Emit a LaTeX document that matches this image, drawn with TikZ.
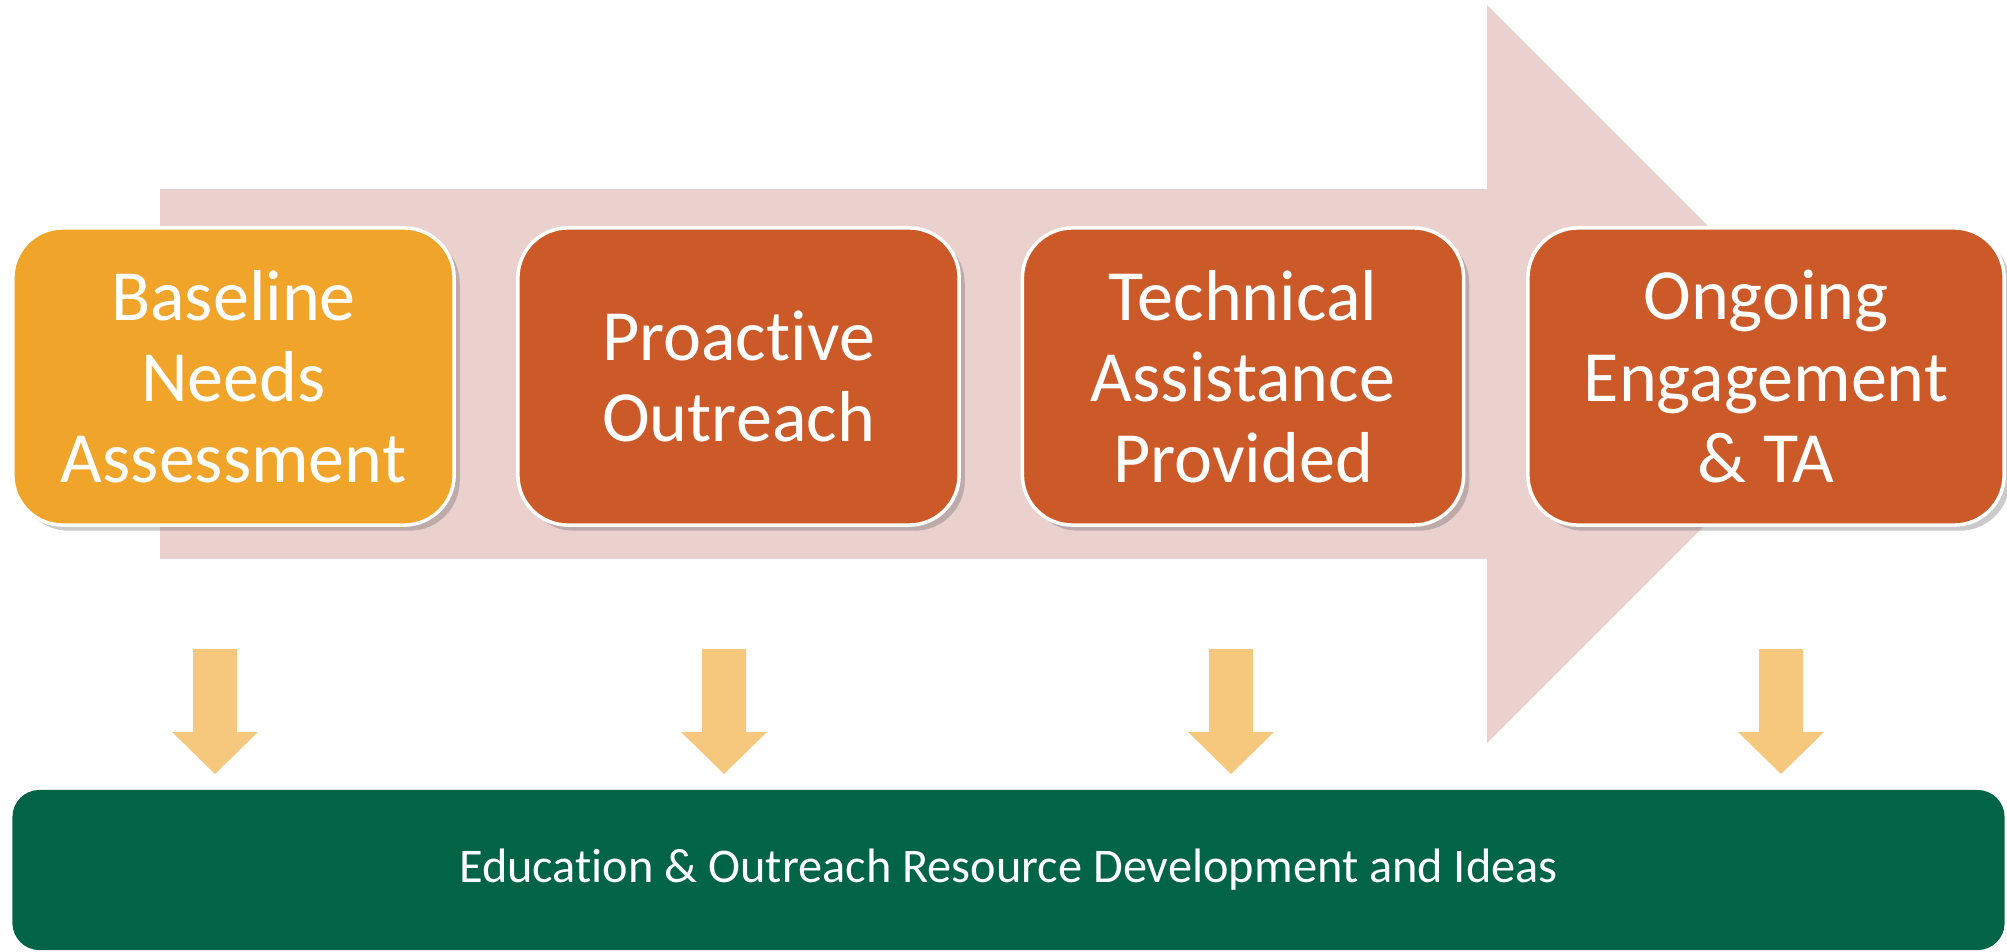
\documentclass[tikz,border=0pt]{standalone}
\usepackage{fontspec}
\setmainfont{Carlito}[Ligatures=NoCommon]
\usetikzlibrary{shadows}
\definecolor{stagegold}{RGB}{240,164,42}
\definecolor{stagerust}{RGB}{203,90,40}
\definecolor{flowpink}{RGB}{235,209,205}
\definecolor{feedsand}{RGB}{245,200,126}
\definecolor{basegreen}{RGB}{1,100,68}

\begin{document}
\begin{tikzpicture}[x=0.01cm, y=0.01cm,
  stage/.style={draw=white, line width=1pt, rounded corners=0.5cm,
    text=white, align=center, inner sep=0pt,
    minimum width=4.41cm, minimum height=2.97cm,
    font=\fontsize{20.5}{23.1}\selectfont,
    drop shadow={shadow xshift=1.6pt, shadow yshift=-1.6pt,
      opacity=0.35, fill=black!60}},
  basebar/.style={fill=basegreen, rounded corners=0.27cm,
    text=white, inner sep=0pt,
    minimum width=19.91cm, minimum height=1.6cm,
    font=\fontsize{13.75}{16}\selectfont}]

\useasboundingbox (0,0) rectangle (2007,951);

% =====================================================================
% Broad block arrow behind the four stages.
% body: x 160..1487, y 392..762 ; head: 1487 -> apex at 1856
% =====================================================================
\def\bodyL{160}
\def\bodyR{1487}
\def\bodyT{762}
\def\bodyB{392}
\fill[flowpink]
  (\bodyL,\bodyT) -- (\bodyR,\bodyT) -- (\bodyR,946) -- (1856,577)
  -- (\bodyR,208) -- (\bodyR,\bodyB) -- (\bodyL,\bodyB) -- cycle;

% ===== STAGES =====
\node[stage, fill=stagegold] (baseline) at (233.5,574.5)
  {Baseline\\Needs\\Assessment};
\node[stage, fill=stagerust] (outreach) at (738.5,574.5)
  {Proactive\\Outreach};
\node[stage, fill=stagerust] (assist) at (1243,574.5)
  {Technical\\Assistance\\Provided};
\node[stage, fill=stagerust, minimum width=4.76cm] (ongoing) at (1766,574.5)
  {Ongoing\\Engagement\\\& TA};

% ===== RESOURCE BAR =====
\node[basebar] (resources) at (1008.5,81)
  {Education \& Outreach Resource Development and Ideas};

% Small feed arrows down into the bar
% shaft half-width 22, head half-width 43
\foreach \ax in {215,724,1231,1781}
  \fill[feedsand]
    ({\ax-22},302) -- ({\ax+22},302) -- ({\ax+22},219) -- ({\ax+43},219)
    -- (\ax,177) -- ({\ax-43},219) -- ({\ax-22},219) -- cycle;

\end{tikzpicture}
\end{document}
